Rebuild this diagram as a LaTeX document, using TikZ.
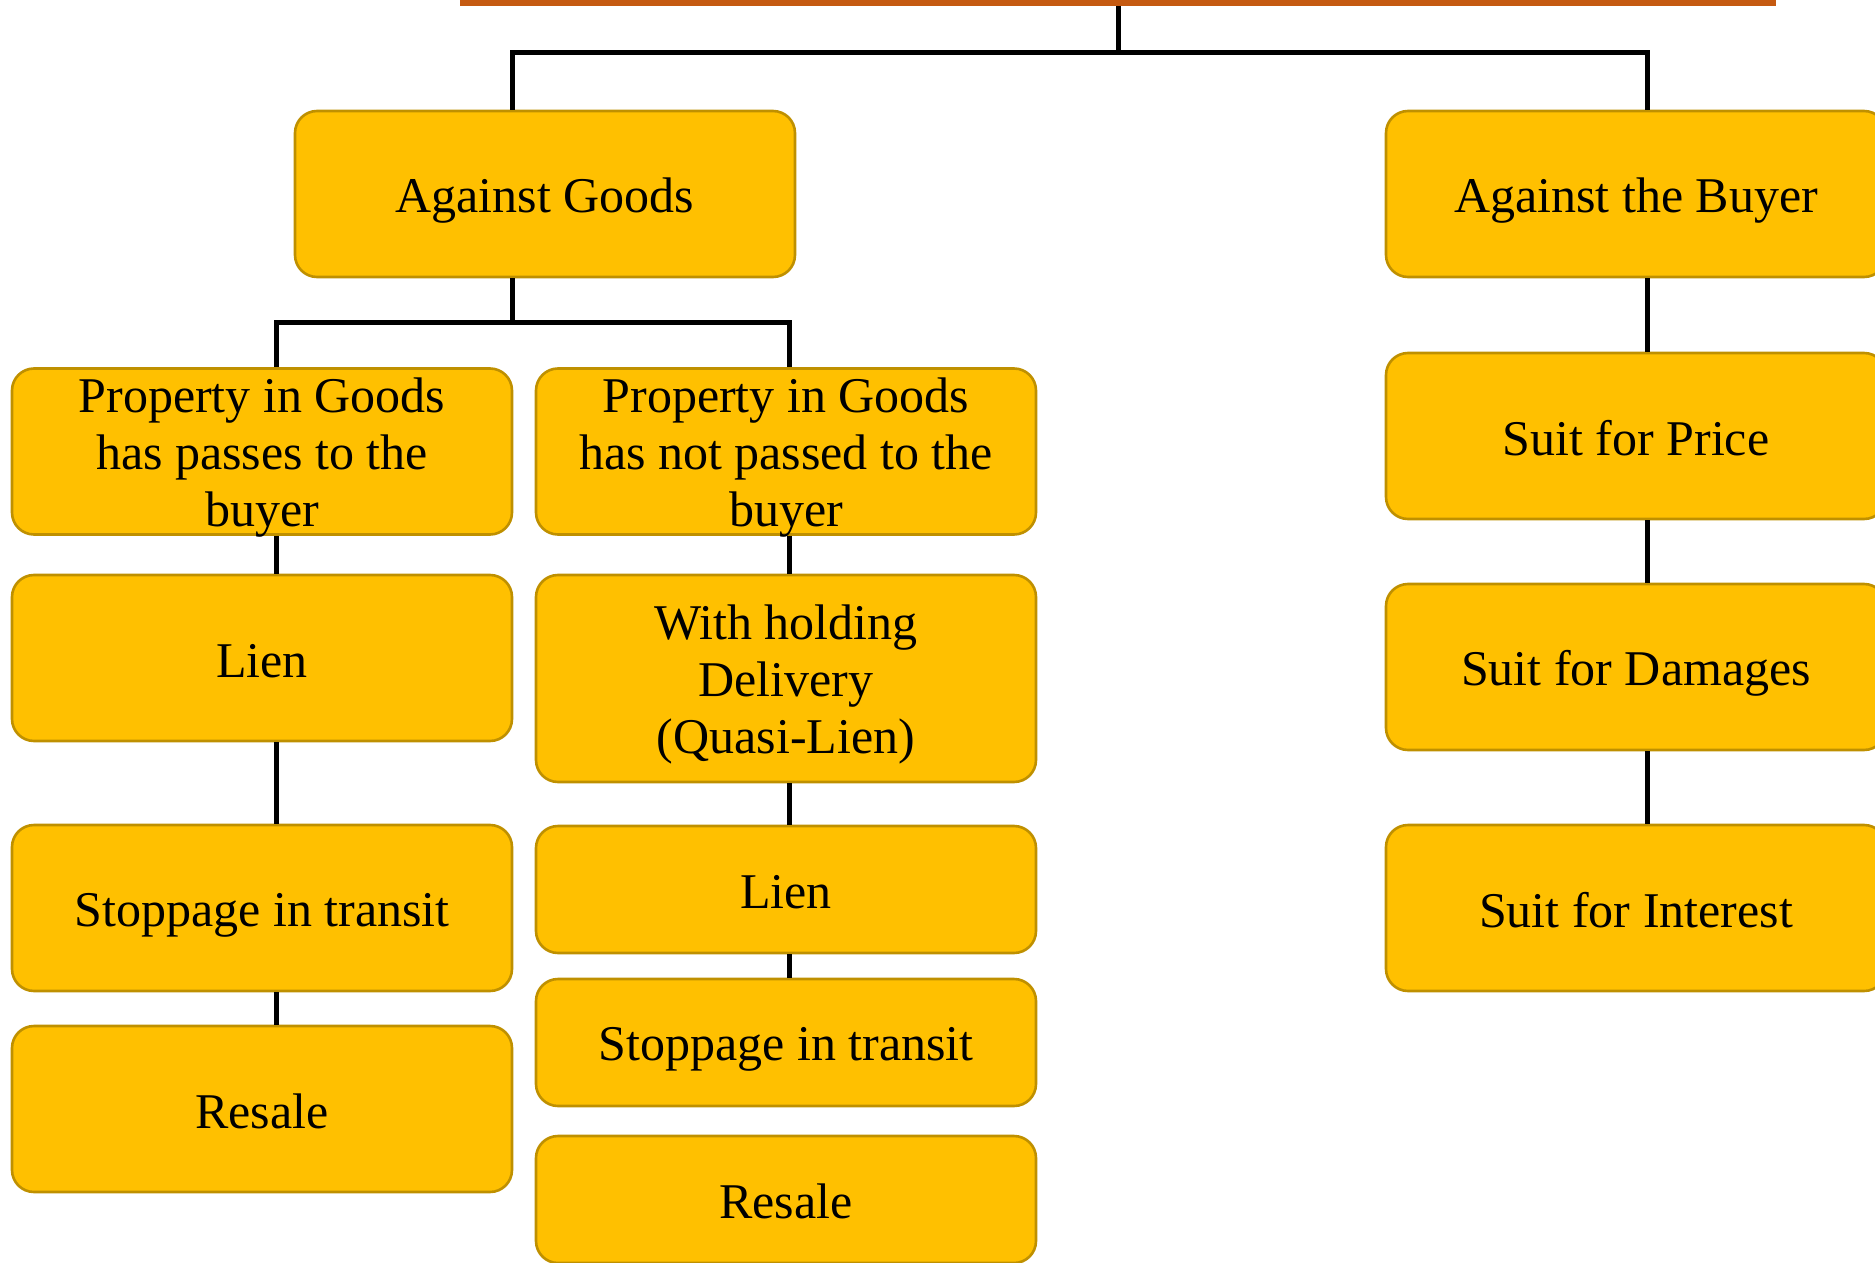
\documentclass[tikz,border=0pt]{standalone}
\usepackage{fontspec}
\setmainfont{Liberation Serif}
\usepackage{tikz}
\usetikzlibrary{positioning}

\definecolor{boxfill}{HTML}{FFC000}
\definecolor{boxedge}{HTML}{BF9000}
\definecolor{rootfill}{HTML}{C55A11}

% strut for the first line of a label with several lines
\newcommand{\topstrut}{\rule{0pt}{23.75pt}}

\begin{document}
\begin{tikzpicture}[x=0.5pt, y=-0.5pt,
    remedy/.style={rectangle, rounded corners=11pt, draw=boxedge, fill=boxfill,
      line width=1.3pt, minimum width=250pt, minimum height=83pt,
      align=center, font=\fontsize{25}{28.5}\selectfont, inner sep=0pt,
      % fixed line height so every label sits the same way
      execute at begin node={\rule{0pt}{23.75pt}},
      execute at end node={\rule[-4.75pt]{0pt}{0pt}}},
    shortbox/.style={remedy, minimum height=63.5pt},
    % three lines are a little taller than the box, let them stick out
    fullbox/.style={remedy, inner ysep=-2pt},
    link/.style={line width=2.5pt, black}]
    % page frame, boxes at the edges get cut off
    \clip (0,0) rectangle (1875,1263);

    % top of the parent box
    \node[rectangle, fill=rootfill, minimum width=658pt, minimum height=56pt,
      inner sep=0pt] (root) at (1118,-50) {};

    % first level
    \node[remedy] (goods) at (545,194) {Against Goods};
    \node[remedy] (buyer) at (1636,194) {Against the Buyer};

    % against goods: property passed
    \node[fullbox] (pass) at (262,451.5) {\topstrut Property in Goods\\has passes to the\\buyer};
    \node[remedy] (lienA) at (262,658) {Lien};
    \node[remedy] (stopA) at (262,908) {Stoppage in transit};
    \node[remedy] (resaleA) at (262,1109) {Resale};

    % against goods: property not passed
    \node[fullbox] (notpass) at (786,451.5) {\topstrut Property in Goods\\has not passed to the\\buyer};
    \node[remedy, minimum height=103.5pt] (hold) at (786,678.5) {\topstrut With holding\\Delivery\\(Quasi-Lien)};
    \node[shortbox] (lienB) at (786,889.5) {Lien};
    \node[shortbox] (stopB) at (786,1042.5) {Stoppage in transit};
    \node[shortbox] (resaleB) at (786,1199.5) {Resale};

    % against the buyer
    \node[remedy] (price) at (1636,436) {Suit for Price};
    \node[remedy] (damages) at (1636,667) {Suit for Damages};
    \node[remedy] (interest) at (1636,908) {Suit for Interest};

    % branch points
    \coordinate (split1) at (1118,53);
    \coordinate (split2) at (512,322);

    % connectors
    \draw[link] (root.south) -- (split1);
    \draw[link] ([xshift=-16.5pt]goods.north) |- (split1) -| ([xshift=5.5pt]buyer.north);
    \draw[link] ([xshift=-16.5pt]goods.south) -- (split2);
    \draw[link] ([xshift=7pt]pass.north) |- (split2) -| ([xshift=1.5pt]notpass.north);

    \foreach \a/\b in {pass/lienA, lienA/stopA, stopA/resaleA}
      \draw[link] ([xshift=7pt]\a.south) -- ([xshift=7pt]\b.north);
    \foreach \a/\b in {notpass/hold, hold/lienB, lienB/stopB}
      \draw[link] ([xshift=1.5pt]\a.south) -- ([xshift=1.5pt]\b.north);
    \foreach \a/\b in {buyer/price, price/damages, damages/interest}
      \draw[link] ([xshift=5.5pt]\a.south) -- ([xshift=5.5pt]\b.north);
\end{tikzpicture}
\end{document}
